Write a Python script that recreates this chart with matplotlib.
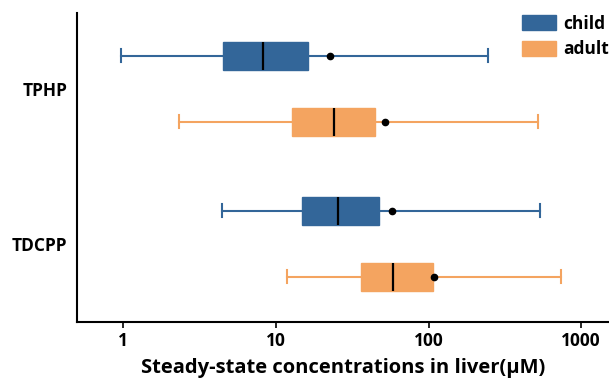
import matplotlib
matplotlib.use("Agg")
import matplotlib.pyplot as plt
from matplotlib.patches import Patch

plt.rcParams["font.family"] = ["Open Sans", "DejaVu Sans"]
plt.rcParams["font.weight"] = "bold"

compounds = ["TPHP", "TDCPP"]
groups = ["child", "adult"]
colors = {"child": "#336699", "adult": "#F4A460"}

# summary stats (uM)
whislo = {"child": [0.97, 4.4], "adult": [2.3, 11.9]}
q1 = {"child": [4.5, 14.8], "adult": [12.7, 36.0]}
median = {"child": [8.2, 25.4], "adult": [24.0, 58.8]}
q3 = {"child": [16.1, 47.0], "adult": [44.8, 107.0]}
mean = {"child": [22.6, 57.6], "adult": [51.9, 108.7]}
whishi = {"child": [245, 538], "adult": [522, 738]}

group_pos = [0.5, 2.85]
offset = {"child": -0.5, "adult": 0.5}

fig = plt.figure(figsize=(6.09, 3.82), dpi=100)
ax = fig.add_axes([0.127, 0.158, 0.873, 0.808])

for g in groups:
    stats = []
    for i in range(len(compounds)):
        stats.append(dict(
            whislo=whislo[g][i], q1=q1[g][i], med=median[g][i],
            q3=q3[g][i], whishi=whishi[g][i], mean=mean[g][i], fliers=[],
        ))
    c = colors[g]
    ax.bxp(
        stats,
        positions=[p + offset[g] for p in group_pos],
        orientation="horizontal",
        widths=0.42,
        patch_artist=True,
        showmeans=True,
        boxprops=dict(facecolor=c, edgecolor=c, linewidth=1),
        whiskerprops=dict(color=c, linewidth=1.5),
        capprops=dict(color=c, linewidth=1.5),
        medianprops=dict(color="black", linewidth=1.6),
        meanprops=dict(marker="o", markerfacecolor="black",
                       markeredgecolor="black", markersize=4.5),
        capwidths=0.2,
    )

ax.set_xscale("log")
ax.set_xlim(0.5, 1520)
ax.set_ylim(4.03, -0.65)
ax.set_xticks([1, 10, 100, 1000])
ax.set_xticklabels(["1", "10", "100", "1000"])
ax.minorticks_off()
ax.set_yticks(group_pos)
ax.set_yticklabels(compounds)
ax.tick_params(axis="y", length=0, labelsize=12.5, pad=7)
ax.tick_params(axis="x", length=4, width=1.2, labelsize=12.5, pad=3.5)
for s in ["top", "right"]:
    ax.spines[s].set_visible(False)
for s in ["left", "bottom"]:
    ax.spines[s].set_linewidth(1.5)
ax.set_xlabel("Steady-state concentrations in liver(\u03bcM)",
              fontsize=14.5, fontweight="bold", labelpad=6)

handles = [Patch(facecolor=colors[g], edgecolor=colors[g], label=g) for g in groups]
ax.legend(handles=handles, loc="upper right", bbox_to_anchor=(1.0, 0.995),
          borderaxespad=0, borderpad=0, frameon=False, fontsize=12.5,
          handlelength=2.0, handleheight=0.95, handletextpad=0.4,
          labelspacing=0.45)

fig.savefig("out.png", dpi=100)
